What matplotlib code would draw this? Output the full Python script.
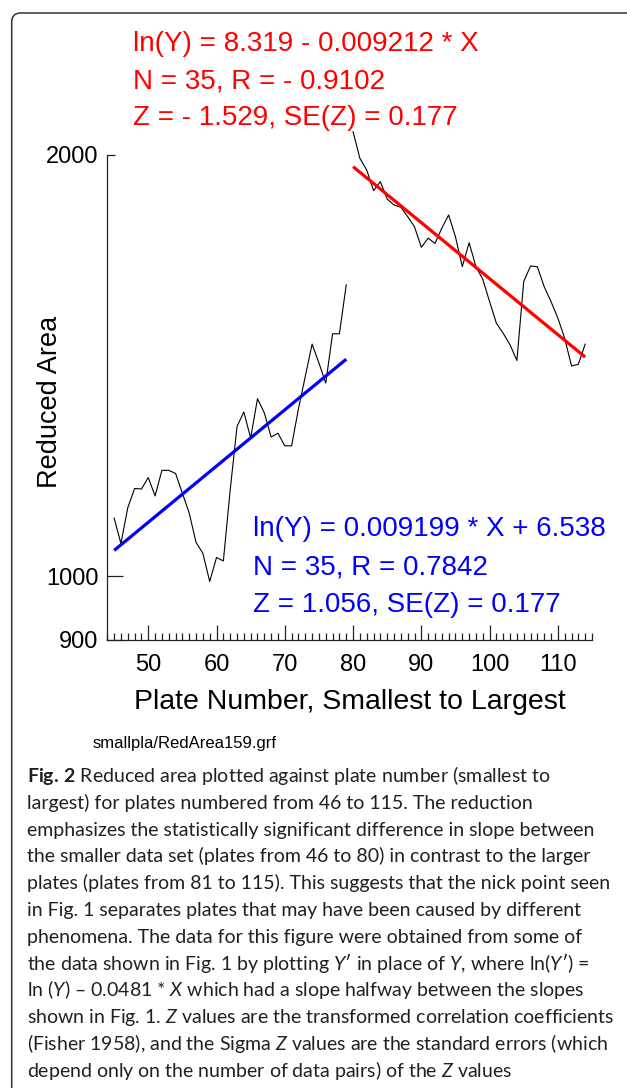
import numpy as np
import matplotlib
matplotlib.use("Agg")
import matplotlib.pyplot as plt
from matplotlib.patches import FancyBboxPatch
from matplotlib.ticker import FixedLocator, NullLocator

# Data
plates_small = list(range(45, 80))
area_small = [1100, 1055, 1119, 1155, 1154, 1176, 1141, 1190, 1190, 1184,
              1146, 1109, 1057, 1038, 991, 1031, 1025, 1152, 1279, 1310,
              1255, 1339, 1308, 1257, 1265, 1239, 1239, 1317, 1389, 1465,
              1420, 1374, 1490, 1490, 1615]
plates_large = list(range(80, 115))
area_large = [2078, 1989, 1951, 1886, 1914, 1860, 1842, 1835, 1807, 1777,
              1718, 1744, 1729, 1773, 1812, 1748, 1664, 1731, 1664, 1630,
              1571, 1516, 1491, 1463, 1426, 1624, 1666, 1664, 1610, 1571,
              1529, 1479, 1413, 1417, 1465]

fit_small_x = [45, 79]
fit_small_y = [1043, 1429]
fit_large_x = [80, 114]
fit_large_y = [1962, 1434]

red_text = ["ln(Y) = 8.319 - 0.009212 * X",
            "N = 35, R = - 0.9102",
            "Z = - 1.529, SE(Z) = 0.177"]
blue_text = ["ln(Y) = 0.009199 * X + 6.538",
             "N = 35, R = 0.7842",
             "Z = 1.056, SE(Z) = 0.177"]

caption = [
    r"$\mathbf{Fig.\,2}$ Reduced area plotted against plate number (smallest to",
    "largest) for plates numbered from 46 to 115. The reduction",
    "emphasizes the statistically significant difference in slope between",
    "the smaller data set (plates from 46 to 80) in contrast to the larger",
    "plates (plates from 81 to 115). This suggests that the nick point seen",
    "in Fig. 1 separates plates that may have been caused by different",
    "phenomena. The data for this figure were obtained from some of",
    r"the data shown in Fig. 1 by plotting $\mathit{Y}$′ in place of $\mathit{Y}$, where ln($\mathit{Y}$′) =",
    r"ln ($\mathit{Y}$) – 0.0481 * $\mathit{X}$ which had a slope halfway between the slopes",
    r"shown in Fig. 1. $\mathit{Z}$ values are the transformed correlation coefficients",
    r"(Fisher 1958), and the Sigma $\mathit{Z}$ values are the standard errors (which",
    r"depend only on the number of data pairs) of the $\mathit{Z}$ values",
]

plt.rcParams['font.family'] = ['Liberation Sans', 'DejaVu Sans']
plt.rcParams['mathtext.fontset'] = 'custom'
plt.rcParams['mathtext.rm'] = 'Lato'
plt.rcParams['mathtext.it'] = 'Lato:italic'
plt.rcParams['mathtext.bf'] = 'Lato:bold'

W, H = 627, 1088
fig = plt.figure(figsize=(W / 100, H / 100), dpi=100)

def fx(px):
    return px / W

def fy(py):
    return 1 - py / H

# frame around the whole figure panel
frame = FancyBboxPatch((0.117, -1.0), 8.0, 11.75,
                       boxstyle="round,pad=0,rounding_size=0.09",
                       transform=fig.dpi_scale_trans, facecolor='none',
                       edgecolor='#333333', linewidth=1.1)
fig.patches.append(frame)

ax = fig.add_axes([fx(107.3), fy(640), fx(592) - fx(107.3), fy(155) - fy(640)])
ax.set_yscale('log')
ax.set_xlim(44, 115)
ax.set_ylim(900, 2000)

ax.plot(plates_small, area_small, color='black', lw=0.8, clip_on=False)
ax.plot(plates_large, area_large, color='black', lw=0.8, clip_on=False)
ax.plot(fit_small_x, fit_small_y, color='#0000ff', lw=2.3, clip_on=False,
        solid_capstyle='butt')
ax.plot(fit_large_x, fit_large_y, color='#ff0000', lw=2.3, clip_on=False,
        solid_capstyle='butt')

for s in ['top', 'right']:
    ax.spines[s].set_visible(False)
for s in ['left', 'bottom']:
    ax.spines[s].set_color('#222222')
    ax.spines[s].set_linewidth(0.9)

ax.xaxis.set_major_locator(FixedLocator(range(50, 111, 10)))
ax.xaxis.set_minor_locator(FixedLocator(range(44, 116)))
ax.set_xticklabels([str(v) for v in range(50, 111, 10)])
ax.yaxis.set_major_locator(FixedLocator([900, 1000, 2000]))
ax.yaxis.set_minor_locator(NullLocator())
ax.set_yticklabels(['900', '1000', '2000'])

ax.tick_params(axis='x', which='major', direction='in', length=10.8,
               width=0.9, color='#222222', labelsize=17, pad=10)
ax.tick_params(axis='x', which='minor', direction='in', length=4.8,
               width=0.9, color='#222222')
ax.tick_params(axis='y', which='major', direction='in', length=11.5,
               width=0.9, color='#222222', labelsize=17, pad=6.5)
ax.yaxis.get_major_ticks()[2].tick1line.set_markersize(5.5)

ax.set_xlabel('Plate Number, Smallest to Largest', fontsize=20.5)
ax.xaxis.set_label_coords(0.5, -0.128)
ax.xaxis.label.set_va('center')
ax.set_ylabel('Reduced Area', fontsize=19.5)
ax.yaxis.set_label_coords(-0.118, 0.49)
ax.yaxis.label.set_va('center')

for i, line in enumerate(red_text):
    fig.text(fx(133), fy(51 + 37 * i), line, color='#ff0000', fontsize=20,
             va='baseline')
for i, line in enumerate(blue_text):
    fig.text(fx(253), fy(536 + 38 * i), line, color='#0000ff', fontsize=20,
             va='baseline')

fig.text(fx(93), fy(748), 'smallpla/RedArea159.grf', fontsize=12, va='baseline')

for i, line in enumerate(caption):
    fig.text(fx(27), fy(782 + 26.8 * i), line, fontsize=14, va='baseline',
             color='#231f20', family=['Lato', 'DejaVu Sans'])

fig.savefig('out.png', dpi=100)
